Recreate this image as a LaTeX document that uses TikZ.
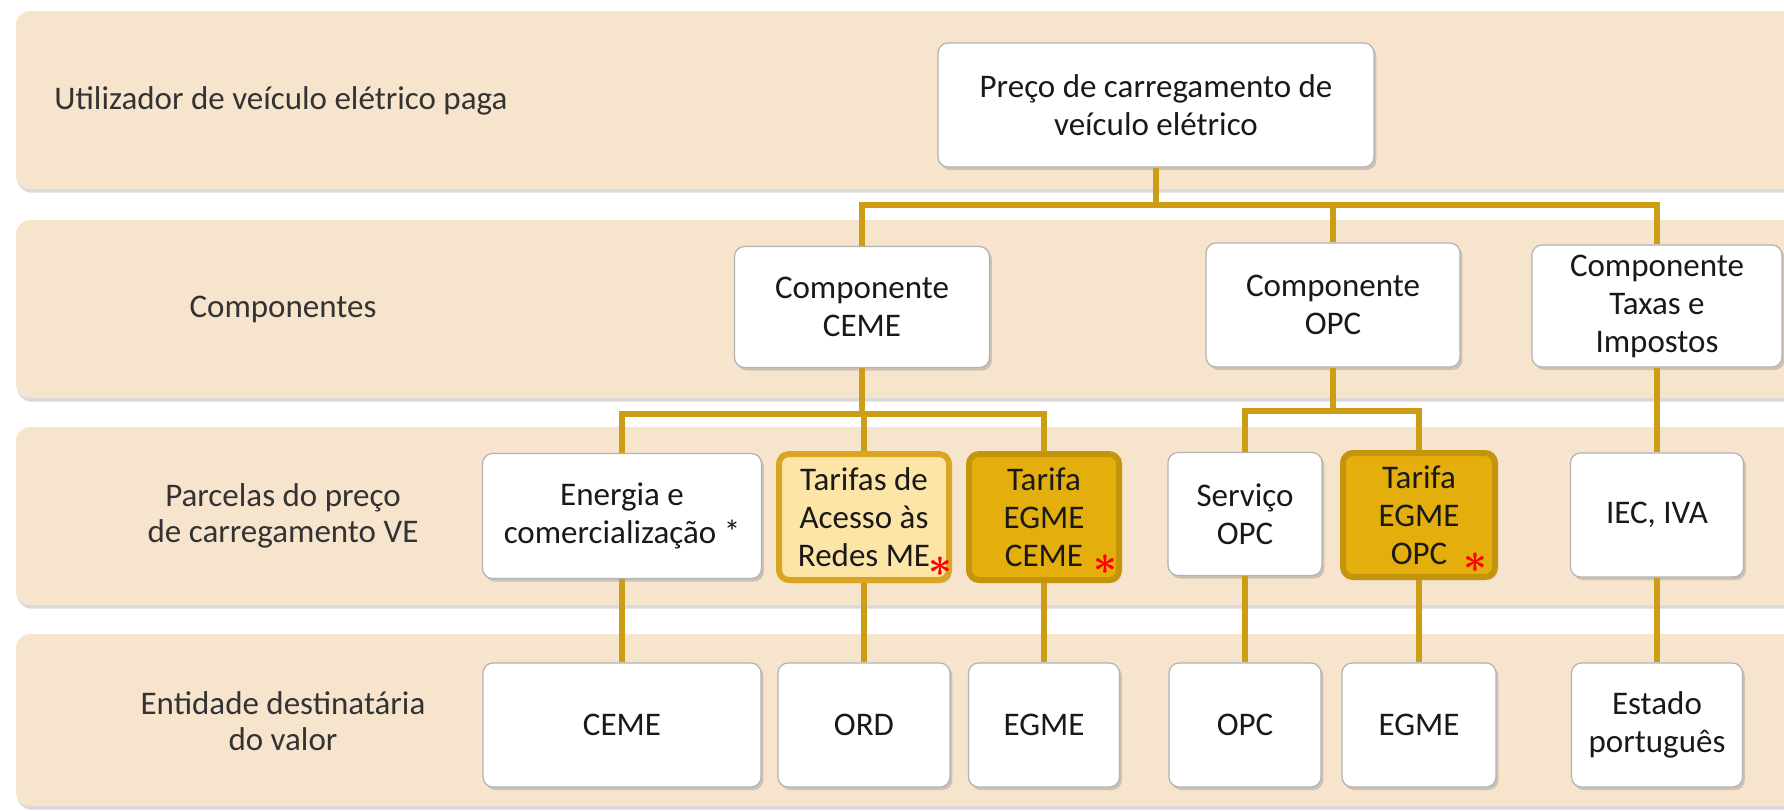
\documentclass[tikz,border=0pt]{standalone}
\usepackage{fontspec}
\setmainfont{Carlito}
\usepackage{tikz}
\usetikzlibrary{shadows}

\definecolor{bandc}{RGB}{247,228,205}
\definecolor{linkc}{RGB}{205,157,22}
\definecolor{palef}{RGB}{252,229,166}
\definecolor{paled}{RGB}{218,166,34}
\definecolor{goldf}{RGB}{228,174,12}
\definecolor{goldd}{RGB}{196,148,10}

\begin{document}
\begin{tikzpicture}[x=0.5pt,y=-0.5pt,
band/.style={fill=bandc,rounded corners=7pt,
  drop shadow={shadow xshift=0.6pt,shadow yshift=-1.8pt,opacity=0.3}},
bandlabel/.style={font=\fontsize{16.5}{18}\selectfont,text=black!80,align=center,inner sep=0pt},
box/.style={draw=gray!60,line width=0.6pt,fill=white,rounded corners=5pt,
  align=center,inner sep=0pt,text=black!90,font=\fontsize{16.5}{19}\selectfont,
  drop shadow={shadow xshift=1.2pt,shadow yshift=-1.5pt,opacity=0.35}},
palebox/.style={box,draw=paled,fill=palef,line width=3pt},
goldbox/.style={box,draw=goldd,fill=goldf,line width=3pt},
link/.style={draw=linkc,line width=3pt},
redstar/.style={text=red,inner sep=0pt,font=\fontsize{20}{20}\selectfont\mathversion{bold}}]
%\tikzstyle{every node}=[box]

\clip (0,0) rectangle (1784,810);

\path[band] (16,11) rectangle (1830,189);
\path[band] (16,220) rectangle (1830,398);
\path[band] (16,427) rectangle (1830,605);
\path[band] (16,634) rectangle (1830,806);

\node (lblPay) [bandlabel,anchor=west] at (54,101) {Utilizador de veículo elétrico paga};
\node (lblComp) [bandlabel] at (283,309) {Componentes};
\node (lblParc) [bandlabel] at (283,516) {Parcelas do preço\\de carregamento VE};
\node (lblDest) [bandlabel] at (283,721) {Entidade destinatária\\do valor};

\node (Root) [box,minimum width=218pt,minimum height=62pt] at (1156,105)
  {Preço de carregamento de\\veículo elétrico};

\node (CompCEME) [box,minimum width=127.5pt,minimum height=60.5pt] at (862,307) {Componente\\CEME};
\node (CompOPC) [box,minimum width=127pt,minimum height=62pt] at (1333,305) {Componente\\OPC};
\node (CompTax) [box,minimum width=125pt,minimum height=61pt] at (1657,306) {Componente\\Taxas e\\Impostos};

\node (Energia) [box,minimum width=139.5pt,minimum height=62.5pt] at (622,516) {Energia e\\comercialização *};
\node (Tarifas) [palebox,minimum width=85pt,minimum height=63pt] at (864,517) {Tarifas de\\Acesso às\\Redes ME};
\node (EgmeCeme) [goldbox,minimum width=75pt,minimum height=63pt] at (1044,517) {Tarifa\\EGME\\CEME};
\node (ServOPC) [box,minimum width=77pt,minimum height=61.5pt] at (1245,514) {Serviço\\OPC};
\node (EgmeOPC) [goldbox,minimum width=76pt,minimum height=62pt] at (1419,515) {Tarifa\\EGME\\OPC};
\node (IEC) [box,minimum width=86.5pt,minimum height=62pt] at (1657,515) {IEC, IVA};

\node (DestCEME) [box,minimum width=139pt,minimum height=62pt] at (622,725) {CEME};
\node (DestORD) [box,minimum width=86pt,minimum height=62pt] at (864,725) {ORD};
\node (DestEgmeA) [box,minimum width=75.5pt,minimum height=62pt] at (1044,725) {EGME};
\node (DestOPC) [box,minimum width=76pt,minimum height=62pt] at (1245,725) {OPC};
\node (DestEgmeB) [box,minimum width=77pt,minimum height=62pt] at (1419,725) {EGME};
\node (DestEstado) [box,minimum width=85.5pt,minimum height=62pt] at (1657,725) {Estado\\português};

\node (astTar) [redstar] at (940,567) {$\ast$};
\node (astCeme) [redstar] at (1105,565) {$\ast$};
\node (astOPC) [redstar] at (1475,563) {$\ast$};

\coordinate (forkTop) at (1156,205);
\coordinate (forkCeme) at (862,414);
\coordinate (forkOPC) at (1333,411);

\draw[link] (Root) -- (forkTop);
\draw[link] (forkTop) -| (CompCEME);
\draw[link] (forkTop) -| (CompOPC);
\draw[link] (forkTop) -| (CompTax);

\draw[link] (CompCEME) -- (forkCeme);
\draw[link] (forkCeme) -| (Energia);
\draw[link] (forkCeme) -| (Tarifas);
\draw[link] (forkCeme) -| (EgmeCeme);
\draw[link] (CompOPC) -- (forkOPC);
\draw[link] (forkOPC) -| (ServOPC);
\draw[link] (forkOPC) -| (EgmeOPC);
\draw[link] (CompTax) -- (IEC);

\draw[link] (Energia) -- (DestCEME);
\draw[link] (Tarifas) -- (DestORD);
\draw[link] (EgmeCeme) -- (DestEgmeA);
\draw[link] (ServOPC) -- (DestOPC);
\draw[link] (EgmeOPC) -- (DestEgmeB);
\draw[link] (IEC) -- (DestEstado);
\end{tikzpicture}
\end{document}
